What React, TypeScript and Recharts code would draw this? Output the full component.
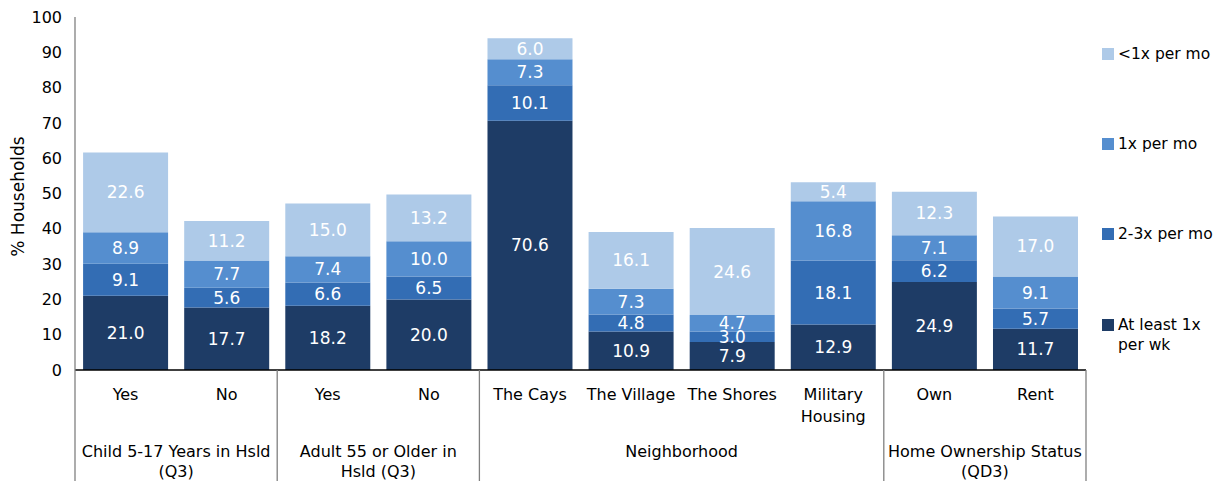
import { BarChart, Bar, XAxis, YAxis, LabelList } from "recharts";

const categories = [
  "Yes", "No", "Yes", "No", "The Cays", "The Village", "The Shores",
  "Military\nHousing", "Own", "Rent",
];

const groups = [
  { label: ["Child 5-17 Years in Hsld", "(Q3)"], size: 2 },
  { label: ["Adult 55 or Older in", "Hsld (Q3)"], size: 2 },
  { label: ["Neighborhood"], size: 4 },
  { label: ["Home Ownership Status", "(QD3)"], size: 2 },
];

const atLeastWeekly = [21.0, 17.7, 18.2, 20.0, 70.6, 10.9, 7.9, 12.9, 24.9, 11.7];
const twoThreeMonthly = [9.1, 5.6, 6.6, 6.5, 10.1, 4.8, 3.0, 18.1, 6.2, 5.7];
const oneMonthly = [8.9, 7.7, 7.4, 10.0, 7.3, 7.3, 4.7, 16.8, 7.1, 9.1];
const lessMonthly = [22.6, 11.2, 15.0, 13.2, 6.0, 16.1, 24.6, 5.4, 12.3, 17.0];

const yTicks = [0, 10, 20, 30, 40, 50, 60, 70, 80, 90, 100];

const series = [
  { key: "weekly", name: "At least 1x\nper wk", color: "#1e3c66" },
  { key: "twothree", name: "2-3x per mo", color: "#336db4" },
  { key: "one", name: "1x per mo", color: "#558ecf" },
  { key: "less", name: "<1x per mo", color: "#aecae8" },
];

const data = categories.map((cat, i) => ({
  cat,
  weekly: atLeastWeekly[i],
  twothree: twoThreeMonthly[i],
  one: oneMonthly[i],
  less: lessMonthly[i],
}));

const FONT = "'DejaVu Sans', sans-serif";
const W = 1216;
const H = 473;
const Y_W = 67;
const M_RIGHT = 138;
const X_H = 111;
const BAND = (W - M_RIGHT - Y_W) / categories.length;

// index where each group begins
const groupStart: number[] = [];
{
  let acc = 0;
  groups.forEach((g) => {
    groupStart.push(acc);
    acc += g.size;
  });
}

const CategoryTick = (props: any) => {
  const { x, y, payload } = props;
  const i = payload.index;
  const lines = String(categories[i]).split("\n");
  const gi = groupStart.indexOf(i);
  const left = x - BAND / 2;
  return (
    <g>
      {lines.map((l, k) => (
        <text key={k} x={x} y={y + 30 + k * 22} textAnchor="middle" fontSize={16} fill="#000" fontFamily={FONT}>
          {l}
        </text>
      ))}
      {gi >= 0 && (
        <g>
          <line x1={left} y1={y} x2={left} y2={y + X_H} stroke="#808080" strokeWidth={1.3} />
          {groups[gi].label.map((l, k) => (
            <text
              key={k}
              x={left + (groups[gi].size * BAND) / 2}
              y={y + 87 + k * 20}
              textAnchor="middle"
              fontSize={16}
              fill="#000"
              fontFamily={FONT}
            >
              {l}
            </text>
          ))}
        </g>
      )}
      {i === categories.length - 1 && (
        <line x1={x + BAND / 2} y1={y} x2={x + BAND / 2} y2={y + X_H} stroke="#808080" strokeWidth={1.3} />
      )}
    </g>
  );
};

const YLabel = (props: any) => {
  const vb = props.viewBox;
  const cx = 10;
  const cy = vb.y + vb.height / 2 + 3;
  return (
    <text x={cx} y={cy} transform={`rotate(-90, ${cx}, ${cy})`} textAnchor="middle" dominantBaseline="central" fontSize={17} fill="#000" fontFamily={FONT}>
      % Households
    </text>
  );
};

const legendPos = [46, 136, 226, 317];

export default function App() {
  const legendItems = [...series].reverse();
  return (
    <div style={{ position: "relative", width: W, height: H, fontFamily: FONT }}>
      <BarChart width={W} height={H} data={data} margin={{ top: 9, right: M_RIGHT, bottom: 0, left: 0 }} barCategoryGap="8%">
        <XAxis
          dataKey="cat"
          interval={0}
          tickLine={false}
          tickSize={0}
          tickMargin={0}
          height={X_H}
          axisLine={{ stroke: "#000", strokeWidth: 1.3 }}
          tick={<CategoryTick />}
        />
        <YAxis
          width={Y_W}
          domain={[0, 100]}
          ticks={yTicks}
          interval={0}
          tickLine={false}
          tickSize={6}
          tickMargin={7}
          axisLine={{ stroke: "#808080", strokeWidth: 1.3 }}
          tick={{ fill: "#000", fontSize: 16, fontFamily: FONT }}
          label={<YLabel />}
        />
        {series.map((s) => (
          <Bar key={s.key} dataKey={s.key} stackId="a" fill={s.color} isAnimationActive={false}>
            <LabelList
              dataKey={s.key}
              position="center"
              fill="#fff"
              fontSize={17}
              fontFamily={FONT}
              formatter={(v: any) => Number(v).toFixed(1)}
            />
          </Bar>
        ))}
      </BarChart>
      {legendItems.map((s, k) => (
        <div key={s.key} style={{ position: "absolute", left: 1094, top: legendPos[k] - 10, display: "flex", alignItems: "flex-start" }}>
          <div style={{ width: 12, height: 12, background: s.color, marginTop: 4, marginRight: 4 }} />
          <div style={{ fontSize: 15.5, lineHeight: "20px", color: "#000", whiteSpace: "pre" }}>{s.name}</div>
        </div>
      ))}
    </div>
  );
}
